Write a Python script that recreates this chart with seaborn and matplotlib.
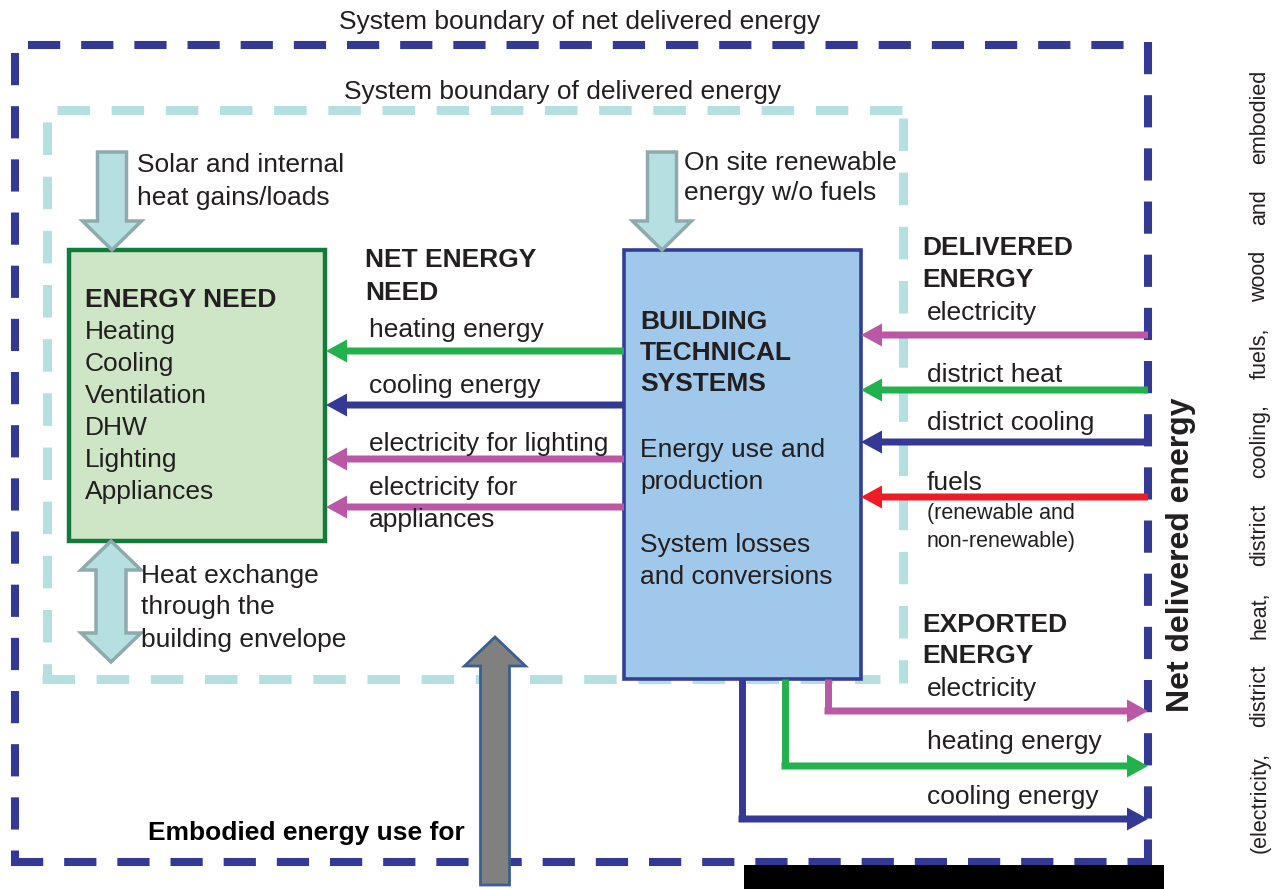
import matplotlib
matplotlib.use("Agg")
import matplotlib.pyplot as plt
import matplotlib.patches as mpatches
import seaborn as sns

# ─── estilo ───────────────────────────────────────────────────────────────
sns.set_theme(style="white")
plt.rcParams['font.family'] = ['Liberation Sans', 'DejaVu Sans']

# ─── textos / dados do diagrama ───────────────────────────────────────────
boundary_titles = ["System boundary of net delivered energy",
                   "System boundary of delivered energy"]
gains_text = ["Solar and internal", "heat gains/loads"]
onsite_text = ["On site renewable", "energy w/o fuels"]
envelope_text = ["Heat exchange", "through the", "building envelope"]
need_title = "ENERGY NEED"
need_items = ["Heating", "Cooling", "Ventilation", "DHW", "Lighting", "Appliances"]
net_title = ["NET ENERGY", "NEED"]
net_flows = [["heating energy"], ["cooling energy"],
             ["electricity for lighting"], ["electricity for", "appliances"]]
bts_title = ["BUILDING", "TECHNICAL", "SYSTEMS"]
bts_text = ["Energy use and", "production", "System losses", "and conversions"]
delivered_title = ["DELIVERED", "ENERGY"]
delivered_flows = ["electricity", "district heat", "district cooling", "fuels"]
fuels_note = ["(renewable and", "non-renewable)"]
exported_title = ["EXPORTED", "ENERGY"]
exported_flows = ["electricity", "heating energy", "cooling energy"]
net_delivered_label = "Net delivered energy"
side_note = "(electricity, district heat, district cooling, fuels, wood and embodied"
embodied_label = "Embodied energy use for"

# cores
NAVY, GREEN, MAGENTA, RED = sns.color_palette(["#343a93", "#22b14c", "#ba58a6", "#ee1c25"])
LIGHT = "#b6dfe2"
TXT = "#231f20"
net_colors = [GREEN, NAVY, MAGENTA, MAGENTA]
delivered_colors = [MAGENTA, GREEN, NAVY, RED]
exported_colors = [MAGENTA, GREEN, NAVY]

# ─── layout (pixels) ──────────────────────────────────────────────────────
W, H = 1285, 889
green_box = (69, 250, 325, 541)      # x0, y0, x1, y1
blue_box = (624, 250, 861, 679)
outer_x0, outer_x1, outer_y0, outer_y1 = 14.5, 1148, 45, 862
inner_x0, inner_x1, inner_y0, inner_y1 = 47, 903, 110, 679

net_arrow_y = [351, 405, 459, 507]
net_text_y = [[330], [386], [444], [488, 520]]
deliv_arrow_y = [335, 390, 442, 497]
deliv_text_y = [313, 375, 423, 483]
exp_arrow_y = [711, 766, 819]
exp_text_y = [689, 742, 797]
exp_stem_x = [828, 785, 742]

FS = 19

fig = plt.figure(figsize=(W / 100, H / 100), dpi=100)
ax = fig.add_axes([0, 0, 1, 1])
ax.set_xlim(0, W)
ax.set_ylim(H, 0)
ax.axis('off')


def dashed(xs, ys, color, lw, pat):
    ax.plot(xs, ys, color=color, lw=lw, linestyle=(0, pat),
            dash_capstyle='butt', zorder=1)


def thin_arrow(x0, x1, y, color):
    ax.arrow(x0, y, x1 - x0, 0, width=7, head_width=23, head_length=21,
             length_includes_head=True, color=color, lw=0, zorder=4)


def fat_down(xc, y0, y1):
    ax.arrow(xc, y0, 0, y1 - y0, width=29, head_width=59, head_length=29,
             length_includes_head=True, fc=LIGHT, ec="#8faaac", lw=2.5, zorder=4)


def double_arrow(xc, y0, y1, w=30, hw=60, hl=29):
    a, b = w / 2, hw / 2
    pts = [(xc, y0), (xc + b, y0 + hl), (xc + a, y0 + hl), (xc + a, y1 - hl),
           (xc + b, y1 - hl), (xc, y1), (xc - b, y1 - hl), (xc - a, y1 - hl),
           (xc - a, y0 + hl), (xc - b, y0 + hl)]
    ax.add_patch(mpatches.Polygon(pts, closed=True, fc=LIGHT, ec="#8faaac",
                                  lw=2.5, zorder=4))


def lines(x, ys, texts, **kw):
    for yy, tt in zip(ys, texts):
        ax.text(x, yy, tt, ha='left', va='center', color=kw.pop('color', TXT)
                if False else kw.get('color', TXT),
                fontsize=kw.get('fontsize', FS), fontweight=kw.get('weight', 'normal'),
                zorder=5)


# limites do sistema
opat = (4.0, 2.6)
dashed([28, 1130], [outer_y0, outer_y0], NAVY, 5.8, opat)
dashed([outer_x0, outer_x0], [53, outer_y1 + 4], NAVY, 5.8, opat)
dashed([outer_x1, outer_x1], [42, outer_y1 + 4], NAVY, 5.8, opat)
dashed([11, outer_x1], [outer_y1, outer_y1], NAVY, 5.8, opat)

ipat = (3.6, 2.4)
dashed([57, 905], [inner_y0, inner_y0], LIGHT, 6.5, ipat)
dashed([inner_x0, inner_x0], [122, inner_y1 + 4], LIGHT, 6.5, ipat)
dashed([inner_x1, inner_x1], [118, inner_y1 + 4], LIGHT, 6.5, ipat)
dashed([42, 880], [inner_y1, inner_y1], LIGHT, 6.5, ipat)

# caixas
gx0, gy0, gx1, gy1 = green_box
ax.add_patch(mpatches.Rectangle((gx0, gy0), gx1 - gx0, gy1 - gy0,
                                fc="#cee6c5", ec="#0f7c3c", lw=3.2, zorder=2))
bx0, by0, bx1, by1 = blue_box
ax.add_patch(mpatches.Rectangle((bx0, by0), bx1 - bx0, by1 - by0,
                                fc="#a0c8eb", ec="#333e96", lw=2.6, zorder=2))

# setas grossas
fat_down(112, 152, gy0)
fat_down(662, 152, by0)
double_arrow(111, gy1, 662)
ax.arrow(495, 885, 0, 637 - 885, width=29, head_width=61, head_length=29,
         length_includes_head=True, fc="#808080", ec="#3a5f8f", lw=2, zorder=4)

# fluxos de energia útil (net)
for yy, c in zip(net_arrow_y, net_colors):
    thin_arrow(bx0, gx1 + 1, yy, c)
# energia entregue
for yy, c in zip(deliv_arrow_y, delivered_colors):
    thin_arrow(outer_x1, bx1, yy, c)
# energia exportada
for yy, c, sx in zip(exp_arrow_y, exported_colors, exp_stem_x):
    ax.plot([sx, sx], [by1, yy], color=c, lw=5, solid_capstyle='butt', zorder=3)
    thin_arrow(sx - 3.5, outer_x1, yy, c)

ax.add_patch(mpatches.Rectangle((744, 865), 420, 30, fc="black", ec="none", zorder=6))

# textos
ax.text(339, 22, boundary_titles[0], ha='left', va='center', fontsize=FS, color=TXT)
ax.text(344, 92, boundary_titles[1], ha='left', va='center', fontsize=FS, color=TXT)
lines(137, [165, 198], gains_text)
lines(684, [163, 193], onsite_text)
lines(141, [576, 607, 640], envelope_text)

lines(85, [300], [need_title], weight='bold')
lines(85, [332 + 32 * i for i in range(len(need_items))], need_items)

lines(365, [260, 293], net_title, weight='bold')
for ys, tt in zip(net_text_y, net_flows):
    lines(369, ys, tt)

lines(640, [322, 353, 384], bts_title, weight='bold')
lines(640, [450, 482, 545, 577], bts_text)

lines(922, [248, 280], delivered_title, weight='bold')
lines(927, deliv_text_y, delivered_flows)
lines(927, [513, 542], fuels_note, fontsize=15.5)

lines(922, [625, 656], exported_title, weight='bold')
lines(927, exp_text_y, exported_flows)

ax.text(148, 833, embodied_label, ha='left', va='center', fontsize=FS,
        fontweight='bold', color='black', zorder=5)
ax.text(1181, 555, net_delivered_label, rotation=90, ha='center', va='center',
        fontsize=23, fontweight='bold', color=TXT, zorder=5)

# nota lateral justificada (palavra a palavra)
words = side_note.split()
renderer = fig.canvas.get_renderer()
objs = [ax.text(1260, 0, w_, rotation=90, ha='center', va='bottom',
                fontsize=15.5, color=TXT, zorder=5) for w_ in words]
lens = [o.get_window_extent(renderer).height for o in objs]
y_bot, y_top = 853, 70
gap = ((y_bot - y_top) - sum(lens)) / (len(words) - 1)
pos = y_bot
for o, L in zip(objs, lens):
    o.set_y(pos)
    pos -= L + gap

fig.savefig('out.png', dpi=100)
